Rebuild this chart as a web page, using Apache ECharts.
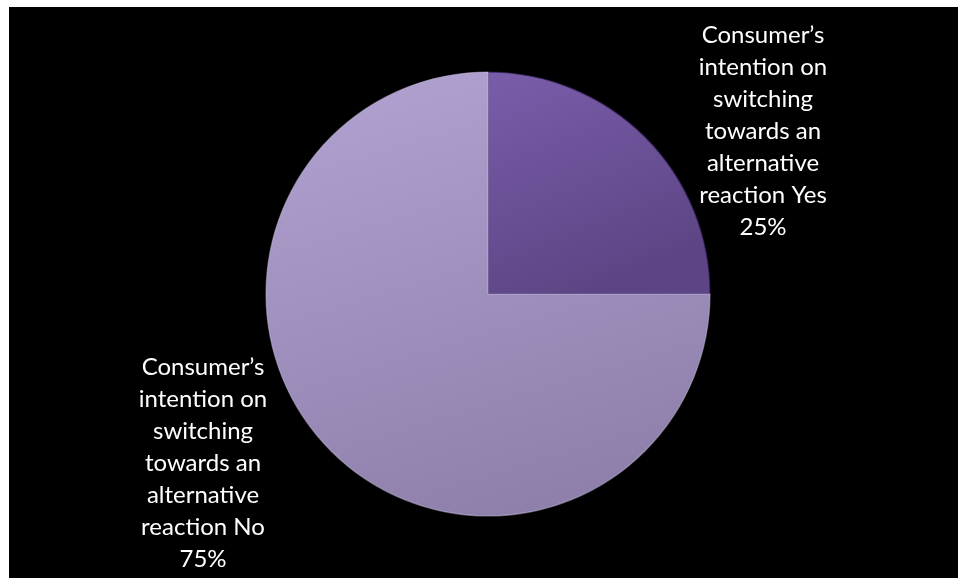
<!DOCTYPE html>
<html>
<head>
<meta charset="utf-8">
<script src="https://cdn.jsdelivr.net/npm/echarts@6/dist/echarts.min.js"></script>
<style>
  html, body { margin: 0; padding: 0; background: #ffffff; }
  #chart { position: absolute; left: 9px; top: 7px; width: 949px; height: 571px; }
</style>
</head>
<body>
<div id="chart"></div>
<script>
// Survey answers and their shares
const categories = [
  "Consumer\u2019s intention on switching towards an alternative reaction Yes",
  "Consumer\u2019s intention on switching towards an alternative reaction No"
];
const shares = [25, 75];
const labelLines = [
  ["Consumer\u2019s", "intention on", "switching", "towards an", "alternative", "reaction Yes"],
  ["Consumer\u2019s", "intention on", "switching", "towards an", "alternative", "reaction No"]
];

const fills = [
  new echarts.graphic.LinearGradient(0, 0, 0.4, 1, [
    { offset: 0, color: '#7a5daa' },
    { offset: 1, color: '#5d4585' }
  ]),
  new echarts.graphic.LinearGradient(0.2, 0, 0.5, 1, [
    { offset: 0, color: '#b0a1d0' },
    { offset: 1, color: '#8e7fab' }
  ])
];
const labelSpots = [
  { x: 754, y: 124 },
  { x: 194, y: 456 }
];

const chart = echarts.init(document.getElementById('chart'));
chart.setOption({
  backgroundColor: '#000000',
  animation: false,
  series: [{
    type: 'pie',
    center: [479, 287],
    radius: 222,
    startAngle: 90,
    clockwise: true,
    data: categories.map((name, i) => ({
      name: name,
      value: shares[i],
      itemStyle: {
        color: fills[i],
        borderColor: i === 0 ? 'rgba(50,32,85,0.7)' : 'rgba(215,205,240,0.45)',
        borderWidth: 1.2
      }
    })),
    label: {
      show: true,
      position: 'outside',
      color: '#ffffff',
      fontFamily: 'Lato',
      fontSize: 24,
      lineHeight: 32,
      align: 'center',
      formatter: (p) => labelLines[p.dataIndex].join('\n') + '\n' + p.value + '%'
    },
    labelLine: { show: false },
    labelLayout: (params) => ({
      x: labelSpots[params.dataIndex].x,
      y: labelSpots[params.dataIndex].y,
      align: 'center',
      verticalAlign: 'middle'
    })
  }]
});
</script>
</body>
</html>
